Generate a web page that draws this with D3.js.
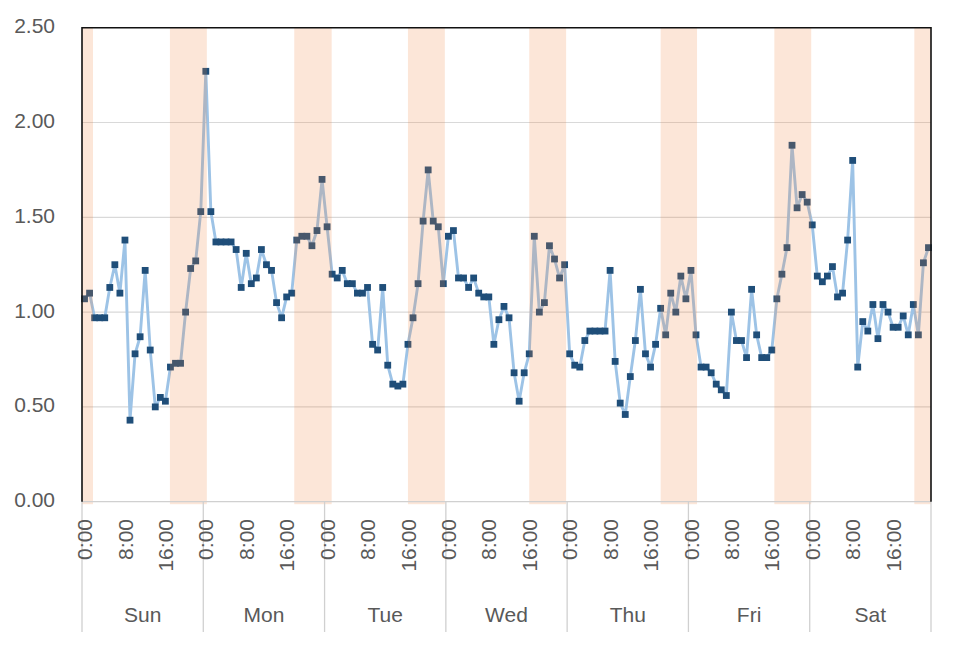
<!DOCTYPE html>
<html>
<head>
<meta charset="utf-8">
<script src="https://cdn.jsdelivr.net/npm/d3@7"></script>
<style>
  html, body { margin: 0; padding: 0; background: #ffffff; }
  svg { display: block; }
  text { font-family: "Liberation Sans", Arial, sans-serif; }
</style>
</head>
<body>
<svg id="chart" width="953" height="654"></svg>
<script>
// ---- data ----
const days = ["Sun", "Mon", "Tue", "Wed", "Thu", "Fri", "Sat"];
const hourTicks = [0, 8, 16];
const yTicks = [0, 0.5, 1.0, 1.5, 2.0, 2.5];

const sunValues = [1.07,1.10,0.97,0.97,0.97,1.13,1.25,1.10,1.38,0.43,0.78,0.87,1.22,0.80,0.50,0.55,0.53,0.71,0.73,0.73,1.00,1.23,1.27,1.53];
const monValues = [2.27,1.53,1.37,1.37,1.37,1.37,1.33,1.13,1.31,1.15,1.18,1.33,1.25,1.22,1.05,0.97,1.08,1.10,1.38,1.40,1.40,1.35,1.43,1.70];
const tueValues = [1.45,1.20,1.18,1.22,1.15,1.15,1.10,1.10,1.13,0.83,0.80,1.13,0.72,0.62,0.61,0.62,0.83,0.97,1.15,1.48,1.75,1.48,1.45,1.15];
const wedValues = [1.40,1.43,1.18,1.18,1.13,1.18,1.10,1.08,1.08,0.83,0.96,1.03,0.97,0.68,0.53,0.68,0.78,1.40,1.00,1.05,1.35,1.28,1.18,1.25];
const thuValues = [0.78,0.72,0.71,0.85,0.90,0.90,0.90,0.90,1.22,0.74,0.52,0.46,0.66,0.85,1.12,0.78,0.71,0.83,1.02,0.88,1.10,1.00,1.19,1.07];
const friValues = [1.22,0.88,0.71,0.71,0.68,0.62,0.59,0.56,1.00,0.85,0.85,0.76,1.12,0.88,0.76,0.76,0.80,1.07,1.20,1.34,1.88,1.55,1.62,1.58];
const satValues = [1.46,1.19,1.16,1.19,1.24,1.08,1.10,1.38,1.80,0.71,0.95,0.90,1.04,0.86,1.04,1.00,0.92,0.92,0.98,0.88,1.04,0.88,1.26,1.34];

// shaded periods, in hours from Sun 0:00
const bandStart = [-0.5, 16.9, 41.5, 64.0, 88.0, 114.0, 136.5, 164.2];
const bandEnd   = [1.68, 24.2, 48.9, 71.3, 95.3, 121.2, 143.8, 167.5];

// ---- build ----
const values = [].concat(sunValues, monValues, tueValues, wedValues, thuValues, friValues, satValues);
const points = values.map((v, i) => ({ h: i, v: v }));

const svg = d3.select("#chart");
const pLeft = 82, pRight = 931, pTop = 27.7, pBottom = 501.7;
const nHours = days.length * 24;

const x = d3.scaleLinear().domain([-0.5, nHours - 0.5]).range([pLeft, pRight]);
const y = d3.scaleLinear().domain([0, 2.5]).range([pBottom, pTop]);

// gridlines
svg.append("g").selectAll("line").data(yTicks.filter(t => t > 0 && t < 2.5)).join("line")
  .attr("x1", pLeft).attr("x2", pRight)
  .attr("y1", d => y(d)).attr("y2", d => y(d))
  .attr("stroke", "#d9d9d9").attr("stroke-width", 1.2);

// y axis labels
const yAxis = d3.axisLeft(y).tickValues(yTicks).tickFormat(d3.format(".2f")).tickSize(0).tickPadding(27);
const gy = svg.append("g").attr("transform", `translate(${pLeft},0)`).call(yAxis);
gy.select(".domain").remove();
gy.selectAll("text").attr("font-size", 21).attr("fill", "#595959")
  .attr("font-family", "Liberation Sans, Arial, sans-serif").attr("dy", "0.24em");

// line
const line = d3.line().x(d => x(d.h)).y(d => y(d.v));
svg.append("path").datum(points).attr("d", line)
  .attr("fill", "none").attr("stroke", "#9dc3e6").attr("stroke-width", 2.9)
  .attr("stroke-linejoin", "round");

// markers
const ms = 6.8;
svg.append("g").selectAll("rect").data(points).join("rect")
  .attr("x", d => x(d.h) - ms / 2).attr("y", d => y(d.v) - ms / 2)
  .attr("width", ms).attr("height", ms).attr("fill", "#1f4e79");

// shaded bands (translucent overlay)
const bands = bandStart.map((s, i) => ({ s: s, e: bandEnd[i] }));
svg.append("g").selectAll("rect").data(bands).join("rect")
  .attr("x", d => x(d.s)).attr("width", d => x(d.e) - x(d.s))
  .attr("y", pTop).attr("height", pBottom + 2.5 - pTop)
  .attr("fill", "rgb(240,128,60)").attr("fill-opacity", 0.2);

// x axis baseline
svg.append("line").attr("x1", pLeft).attr("x2", pRight).attr("y1", pBottom).attr("y2", pBottom)
  .attr("stroke", "#d0d0d0").attr("stroke-width", 1.3);

// day separators
const dayEdges = d3.range(days.length + 1).map(k => k * 24 - 0.5);
svg.append("g").selectAll("line").data(dayEdges).join("line")
  .attr("x1", d => x(d)).attr("x2", d => x(d))
  .attr("y1", pBottom).attr("y2", 632)
  .attr("stroke", "#d0d0d0").attr("stroke-width", 1.3);

// frame
svg.append("path")
  .attr("d", `M${pLeft},${pBottom} V${pTop} H${pRight} V${pBottom}`)
  .attr("fill", "none").attr("stroke", "#111").attr("stroke-width", 1.6);

// hour tick labels
const hourLabels = [];
days.forEach((d, k) => hourTicks.forEach(t => hourLabels.push({ h: k * 24 + t, t: t })));
svg.append("g").selectAll("text").data(hourLabels).join("text")
  .attr("transform", d => `translate(${x(d.h)},519) rotate(-90)`)
  .attr("text-anchor", "end").attr("dy", "0.36em")
  .attr("font-size", 21).attr("fill", "#595959")
  .text(d => d.t + ":00");

// day labels
svg.append("g").selectAll("text").data(days).join("text")
  .attr("x", (d, k) => (x(k * 24 - 0.5) + x(k * 24 + 23.5)) / 2)
  .attr("y", 621.5).attr("text-anchor", "middle")
  .attr("font-size", 21).attr("fill", "#595959")
  .text(d => d);
</script>
</body>
</html>
